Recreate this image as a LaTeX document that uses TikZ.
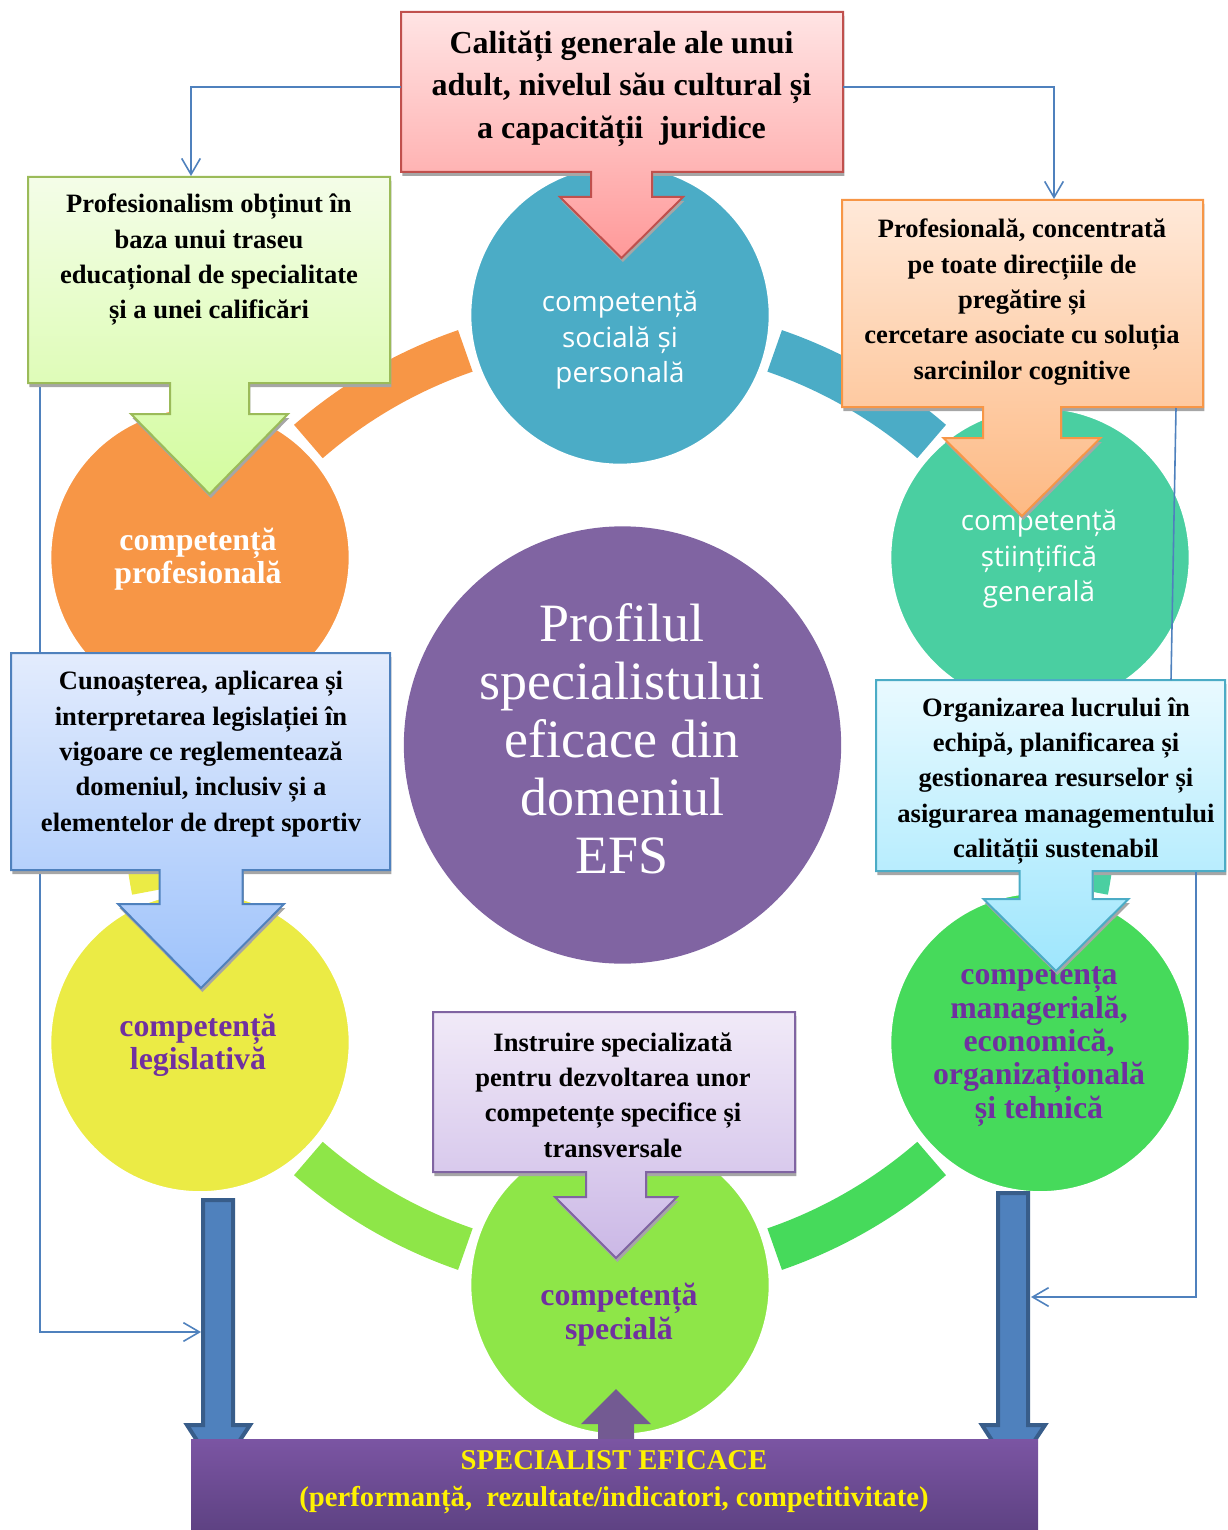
\documentclass[tikz,border=0pt]{standalone}
\usepackage{fontspec}
\setmainfont{Liberation Serif}
\newfontfamily\opensans{Open Sans}
\usetikzlibrary{arrows.meta}

\definecolor{profC}{HTML}{F79646}
\definecolor{socialC}{HTML}{4BACC6}
\definecolor{stiintC}{HTML}{4ACFA1}
\definecolor{managC}{HTML}{46DA5B}
\definecolor{specialC}{HTML}{8EE648}
\definecolor{legisC}{HTML}{EBEB45}
\definecolor{centC}{HTML}{8064A2}
\definecolor{purpC}{HTML}{7030A0}
\definecolor{linkC}{HTML}{4F81BD}
\definecolor{flowB}{HTML}{385D8A}
\definecolor{finalT}{HTML}{7B55A3}
\definecolor{finalU}{HTML}{5E4283}
\definecolor{redB}{HTML}{C0504D}
\definecolor{redT}{HTML}{FFE4E4}
\definecolor{redU}{HTML}{FF9999}

\tikzset{
  band/.style={line width=33pt},
  disc/.style={circle, draw=white, line width=3pt, minimum size=226pt, inner sep=0pt},
  ringtext/.style={align=center, inner sep=0pt, text=purpC, font=\bfseries\fontsize{23.85}{25}\selectfont},
  sanstext/.style={align=center, inner sep=0pt, text=white, font=\opensans\fontsize{20.85}{26.6}\selectfont},
  calltext/.style={align=center, inner sep=0pt, font=\bfseries\fontsize{19.9}{26.5}\selectfont},
  dropshade/.style={fill=black!35, xshift=1pt, yshift=3pt},
  callred/.style={draw=redB, line width=1.5pt, top color=redT, bottom color=redU},
  link/.style={draw=linkC, line width=1.2pt},
  barb/.style={-{Straight Barb[length=12pt,width=14pt]}},
  flowarrow/.style={fill=linkC, draw=flowB, line width=3pt},
}

% left, top, right, bottom, tip x, shaft half, head half, head y, tip y
\newcommand{\callout}[9]{(#1,#2) -- (#3,#2) -- (#3,#4) -- ({#5+#6},#4) -- ({#5+#6},#8) -- ({#5+#7},#8) -- (#5,#9) -- ({#5-#7},#8) -- ({#5-#6},#8) -- ({#5-#6},#4) -- (#1,#4) -- cycle}

\begin{document}
\begin{tikzpicture}[x=0.75pt,y=0.75pt,yscale=-1]
\useasboundingbox (0,0) rectangle (1227,1530);
% ring bands
\draw[band, profC] (620,800) ++(-131:475) arc[start angle=-131, end angle=-109, radius=475];
\draw[band, socialC] (620,800) ++(-71:475) arc[start angle=-71, end angle=-49, radius=475];
\draw[band, stiintC] (620,800) ++(-11:475) arc[start angle=-11, end angle=11, radius=475];
\draw[band, managC] (620,800) ++(49:475) arc[start angle=49, end angle=71, radius=475];
\draw[band, specialC] (620,800) ++(109:475) arc[start angle=109, end angle=131, radius=475];
\draw[band, legisC] (620,800) ++(169:475) arc[start angle=169, end angle=191, radius=475];
% circles
\node[disc, fill=profC] (profes) at (200,557.5) {};
\node[disc, fill=socialC] (social) at (620,315) {};
\node[disc, fill=stiintC] (stiint) at (1040,557.5) {};
\node[disc, fill=managC] (manag) at (1040,1042.5) {};
\node[disc, fill=specialC] (special) at (620,1285) {};
\node[disc, fill=legisC] (legis) at (200,1042.5) {};
\node[circle, fill=centC, minimum size=328pt, inner sep=0pt] (profil) at (622.5,745) {};
\node[ringtext, text=white] (profes-t) at (198,559.5) {competență\\profesională};
\node[sanstext] (social-t) at (620,340.5) {competență\\socială și\\personală};
\node[sanstext] (stiint-t) at (1039,559.5) {competență\\științifică\\generală};
\node[ringtext] (legis-t) at (198,1045) {competență\\legislativă};
\node[ringtext] (manag-t) at (1039,1046.5) {competența\\managerială,\\economică,\\organizațională\\și tehnică};
\node[ringtext] (special-t) at (619,1314.5) {competență\\specială};
\node[align=center, inner sep=0pt, text=white, font=\fontsize{40.5}{43.5}\selectfont] (profil-t) at (622,739) {Profilul\\specialistului\\eficace din\\domeniul\\EFS};

% thick arrows to the result
\coordinate (legis-foot) at (218,1200);
\coordinate (manag-foot) at (1013,1193);
\draw[flowarrow] (legis-foot) -- ++(15,0) -- ++(0,225) -- ++(17,0) -- ++(-32,48) -- ++(-31,-48) -- ++(16,0) -- ++(0,-225) -- cycle;
\draw[flowarrow] (manag-foot) -- ++(15,0) -- ++(0,232) -- ++(17,0) -- ++(-32,48) -- ++(-31,-48) -- ++(16,0) -- ++(0,-232) -- cycle;

% link points
\coordinate (calit-w) at (401,87);
\coordinate (calit-e) at (843,87);
\coordinate (prof-in) at (191,176);
\coordinate (cerc-in) at (1054,199);
\coordinate (prof-foot) at (40,384);
\coordinate (legflow-in) at (201,1332);
\coordinate (cerc-foot) at (1176,408);
\coordinate (org-head) at (1171,680);
\coordinate (org-foot) at (1196,872);
\coordinate (manflow-in) at (1031,1297);
\draw[link, barb] (prof-foot) |- (legflow-in);

% callouts
\fill[dropshade] \callout{401}{12}{843}{172}{621.5}{30.5}{61.5}{197}{258};
\draw[callred] \callout{401}{12}{843}{172}{621.5}{30.5}{61.5}{197}{258};
\fill[dropshade] \callout{28}{177}{390}{383}{209.5}{39.5}{78.5}{414}{494};
\draw[draw={rgb,255:red,155;green,187;blue,89}, line width=1.5pt, top color={rgb,255:red,244;green,253;blue,232}, bottom color={rgb,255:red,211;green,252;blue,158}] \callout{28}{177}{390}{383}{209.5}{39.5}{78.5}{414}{494};
\fill[dropshade] \callout{842}{200}{1203}{407}{1022}{39}{78.5}{438}{516};
\draw[draw=profC, line width=1.5pt, top color={rgb,255:red,255;green,233;blue,217}, bottom color={rgb,255:red,253;green,185;blue,131}] \callout{842}{200}{1203}{407}{1022}{39}{78.5}{438}{516};
\fill[dropshade] \callout{11}{653}{390}{870}{201}{41.5}{83}{904}{988};
\draw[draw=linkC, line width=1.5pt, top color={rgb,255:red,227;green,236;blue,253}, bottom color={rgb,255:red,157;green,194;blue,251}] \callout{11}{653}{390}{870}{201}{41.5}{83}{904}{988};
\fill[dropshade] \callout{876}{680}{1225}{871}{1056}{36.5}{72.5}{899}{971};
\draw[draw=socialC, line width=1.5pt, top color={rgb,255:red,233;green,250;blue,255}, bottom color={rgb,255:red,158;green,230;blue,253}] \callout{876}{680}{1225}{871}{1056}{36.5}{72.5}{899}{971};
\fill[dropshade] \callout{433}{1012}{795}{1172}{616}{30}{61}{1197}{1258};
\draw[draw=centC, line width=1.5pt, top color={rgb,255:red,241;green,234;blue,248}, bottom color={rgb,255:red,203;green,184;blue,230}] \callout{433}{1012}{795}{1172}{616}{30}{61}{1197}{1258};

\node[calltext, font=\bfseries\fontsize{24}{31.9}\selectfont] (calit) at (621.5,88.5) {Calități generale ale unui\\adult, nivelul său cultural și\\a capacității~ juridice};
\node[calltext] (prof-box) at (209,260) {Profesionalism obținut în\\baza unui traseu\\educațional de specialitate\\și a unei calificări};
\node[calltext] (cerc-box) at (1022,302) {Profesională, concentrată\\pe toate direcțiile de\\pregătire și\\cercetare asociate cu soluția\\sarcinilor cognitive};
\node[calltext] (leg-box) at (201,754) {Cunoașterea, aplicarea și\\interpretarea legislației în\\vigoare ce reglementează\\domeniul, inclusiv și a\\elementelor de drept sportiv};
\node[calltext] (org-box) at (1056,781) {Organizarea lucrului în\\echipă, planificarea și\\gestionarea resurselor și\\asigurarea managementului\\calității sustenabil};
\node[calltext] (instr-box) at (613,1095) {Instruire specializată\\pentru dezvoltarea unor\\competențe specifice și\\transversale};

% thin links
\draw[link, barb] (calit-w) -| (prof-in);
\draw[link, barb] (calit-e) -| (cerc-in);
\draw[link] (cerc-foot) -- (org-head);
\draw[link, barb] (org-foot) |- (manflow-in);

% result box
\coordinate (final-base) at (616,1440);
\fill[centC!90!black] (final-base) ++(-18,0) -- ++(0,-16) -- ++(-17,0) -- ++(35,-35) -- ++(35,35) -- ++(-17,0) -- ++(0,16) -- cycle;
\shade[top color=finalT, bottom color=finalU] (191,1439) rectangle (1038,1530);
\node[align=center, inner sep=0pt, text=yellow, font=\bfseries\fontsize{21.5}{27.75}\selectfont] (final) at (614,1482) {SPECIALIST EFICACE\\(performanță,~ rezultate/indicatori, competitivitate)};
\end{tikzpicture}
\end{document}
